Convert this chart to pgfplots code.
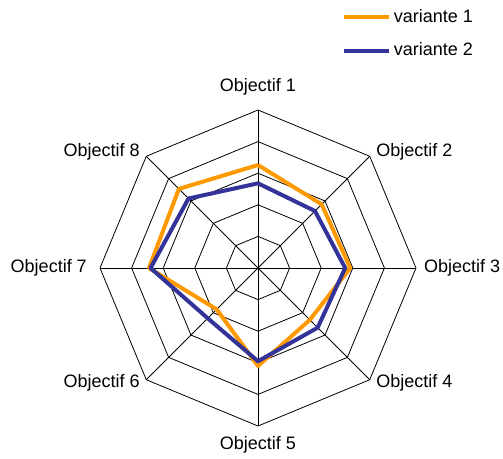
\documentclass[border=0pt]{standalone}
\usepackage{fontspec}
\setmainfont{Liberation Sans}
\usepackage{pgfplots}
\pgfplotsset{compat=1.18}
\usepgfplotslibrary{polar}
\definecolor{vone}{RGB}{255,153,0}
\definecolor{vtwo}{RGB}{51,51,153}
\begin{document}
\fontsize{13.5pt}{16pt}\selectfont
\begin{tikzpicture}
\useasboundingbox (-193.5pt,-142.5pt) rectangle (183.75pt,201pt);
\begin{polaraxis}[
  at={(0,0)}, anchor=origin,
  scale only axis, width=237pt, height=237pt,
  hide axis,
  ymin=0, ymax=5,
  clip=false,
  legend style={at={(axis cs:72.3,8.70)}, anchor=north west, draw=none, fill=none,
    inner sep=0pt, row sep=9.5pt, font=\fontsize{13.5pt}{16pt}\selectfont,
    /tikz/every even column/.append style={column sep=0pt}},
  legend cell align=left,
  legend image code/.code={\draw[#1] (0pt,0pt) -- (34pt,0pt);},
]
% grid rings
\foreach \r in {1,2,3,4,5}{
  \edef\tmp{\noexpand\addplot[black, line width=0.6pt, forget plot] coordinates {(0,\r) (45,\r) (90,\r) (135,\r) (180,\r) (225,\r) (270,\r) (315,\r) (360,\r)};}
  \tmp
}
% spokes
\addplot[black, line width=0.6pt, forget plot] coordinates {(0,5) (180,5)};
\addplot[black, line width=0.6pt, forget plot] coordinates {(45,5) (225,5)};
\addplot[black, line width=0.6pt, forget plot] coordinates {(90,5) (270,5)};
\addplot[black, line width=0.6pt, forget plot] coordinates {(135,5) (315,5)};
% data
\addplot[vone, line width=3pt, line join=round] coordinates {
 (90,3.26) (45,2.85) (0,2.92) (315,2.32) (270,3.10) (225,1.85) (180,3.45) (135,3.54) (90,3.26)};
\addlegendentry{variante 1}
\addplot[vtwo, line width=3pt, line join=round] coordinates {
 (90,2.68) (45,2.55) (0,2.76) (315,2.67) (270,2.95) (225,2.25) (180,3.40) (135,3.11) (90,2.68)};
\addlegendentry{variante 2}
% labels
\node at (axis cs:90,5.73) {Objectif 1};
\node[inner sep=0pt, anchor=west, xshift=4.7pt, yshift=3.5pt] at (axis cs:45,5) {Objectif 2};
\node[inner sep=0pt, anchor=west] at (axis cs:0,5.25) {Objectif 3};
\node[inner sep=0pt, anchor=west, xshift=4.7pt, yshift=-2pt] at (axis cs:315,5) {Objectif 4};
\node at (axis cs:270,5.60) {Objectif 5};
\node[inner sep=0pt, anchor=east, xshift=-4.7pt, yshift=-2pt] at (axis cs:225,5) {Objectif 6};
\node[inner sep=0pt, anchor=east] at (axis cs:180,5.41) {Objectif 7};
\node[inner sep=0pt, anchor=east, xshift=-4.7pt, yshift=3pt] at (axis cs:135,5) {Objectif 8};
\end{polaraxis}
\end{tikzpicture}
\end{document}
